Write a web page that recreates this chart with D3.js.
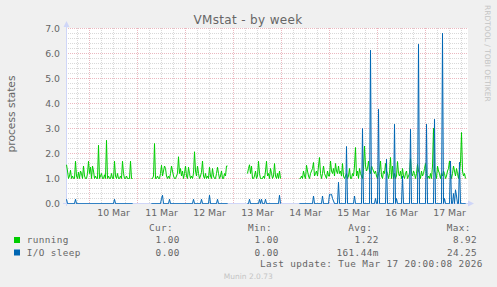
<!DOCTYPE html>
<html><head><meta charset="utf-8">
<script src="https://cdn.jsdelivr.net/npm/d3@7"></script>
<style>
html,body{margin:0;padding:0;background:#f0f0f0;}
svg{display:block;}
</style></head><body>
<svg id="chart" width="497" height="287"></svg>
<script>
// ---------- data ----------
const chartTitle = "VMstat - by week";
const yAxisLabel = "process states";
const yTickValues = [0, 1, 2, 3, 4, 5, 6, 7];
const yTickLabels = ["0.0", "1.0", "2.0", "3.0", "4.0", "5.0", "6.0", "7.0"];
const xTickDates = ["2026-03-10T12:00", "2026-03-11T12:00", "2026-03-12T12:00", "2026-03-13T12:00",
                    "2026-03-14T12:00", "2026-03-15T12:00", "2026-03-16T12:00", "2026-03-17T12:00"];
const xTickLabels = ["10 Mar", "11 Mar", "12 Mar", "13 Mar", "14 Mar", "15 Mar", "16 Mar", "17 Mar"];
const timeStart = "2026-03-09T12:30";
const timeEnd = "2026-03-17T20:30";
const stepMinutes = 30;
const segmentStarts = ["2026-03-09T12:30", "2026-03-11T07:00", "2026-03-13T07:00", "2026-03-14T09:00"];

const running1 = [1.55,1.3,1.0,1.1,1.33,1.0,1.1,1.0,1.0,1.69,
  1.1,1.0,1.25,1.0,1.3,1.2,1.0,1.5,1.1,1.0,
  1.0,1.2,1.69,1.2,1.45,1.0,1.5,1.3,1.0,1.1,
  1.0,1.0,2.33,1.0,1.1,1.2,1.0,1.0,1.15,1.0,
  2.53,1.0,1.1,1.0,1.0,1.2,1.0,1.0,1.69,1.1,
  1.0,1.2,1.0,1.0,1.1,1.0,1.69,1.2,1.0,1.0,
  1.1,1.0,1.0,1.0,1.69,1.0,1.0];
const running2 = [1.0,1.0,1.1,2.4,1.0,1.0,1.1,1.0,1.0,1.2,
  1.53,1.1,1.3,1.5,1.4,1.1,1.0,1.1,1.0,1.2,
  1.5,1.3,1.1,1.0,1.0,1.1,1.2,1.87,1.2,1.4,
  1.1,1.3,1.0,1.2,1.5,1.1,1.0,1.45,1.2,1.0,
  1.1,1.0,1.2,2.07,1.3,1.1,1.5,1.2,1.0,1.1,
  1.25,1.7,1.1,1.0,1.2,1.0,1.1,1.0,1.45,1.1,
  1.0,1.4,1.1,1.0,1.0,1.2,1.45,1.2,1.0,1.1,
  1.3,1.0,1.0,1.2,1.1,1.5,1.5];
const running3 = [1.2,1.4,1.55,1.2,1.5,1.0,1.0,1.1,1.3,1.0,
  1.1,1.69,1.2,1.0,1.0,1.0,1.1,1.0,1.3,1.69,
  1.1,1.2,1.0,1.4,1.2,1.0,1.1,1.6,1.1,1.0,
  1.2,1.0,1.3,1.0];
const running4 = [1.0,1.0,1.1,1.0,1.3,1.1,1.0,1.53,1.3,1.1,
  1.0,1.2,1.3,1.4,1.64,1.1,1.2,1.3,1.1,1.5,
  1.84,1.2,1.0,1.2,1.5,1.2,1.1,1.0,1.3,1.1,
  1.1,1.7,1.3,1.2,1.4,1.1,1.6,1.3,1.2,1.5,
  1.2,1.3,1.1,1.6,1.1,1.0,1.1,1.2,1.0,1.1,
  1.4,1.0,1.0,1.2,1.1,1.5,2.24,1.1,1.3,1.0,
  1.4,1.2,1.1,1.0,1.4,2.3,1.5,1.3,1.4,1.7,
  1.3,1.2,1.5,1.4,1.3,1.2,1.3,1.1,1.0,1.2,
  1.3,1.7,1.1,1.0,1.3,1.2,1.6,1.3,1.2,1.0,
  1.2,1.84,1.0,1.5,1.0,1.2,1.0,1.1,1.68,1.2,
  1.1,1.3,1.0,1.4,1.1,1.0,1.2,1.3,1.0,1.1,
  1.2,1.8,1.2,1.1,1.3,1.2,1.0,1.2,1.57,1.3,
  1.2,1.0,1.3,1.1,1.2,1.4,1.6,1.2,1.0,1.1,
  1.0,1.2,1.0,1.5,3.01,1.3,1.2,1.0,1.5,1.3,
  1.2,1.0,1.2,1.1,1.3,1.2,1.0,1.1,1.3,1.4,
  1.7,1.2,1.0,1.2,1.5,1.3,1.1,1.4,1.2,1.0,
  1.3,1.6,2.84,1.3,1.1,1.2,1.0];

const ioSleep1 = [0.17,0,0,0,0,0,0,0,0,0.17,
  0,0,0,0,0,0,0,0,0,0,
  0,0,0,0,0,0,0,0,0,0,
  0,0,0,0,0,0,0,0,0,0,
  0,0,0,0,0,0,0,0,0.17,0,
  0,0,0,0,0,0,0,0,0,0,
  0,0,0,0,0,0,0];
const ioSleep2 = [0,0,0,0,0,0,0,0,0,0,
  0.2,0.33,0,0,0,0,0,0,0.17,0,
  0,0,0,0,0,0,0,0,0,0,
  0,0,0,0,0,0,0,0,0,0,
  0,0,0.17,0,0,0,0,0,0,0,
  0.17,0,0,0,0,0,0,0,0.33,0,
  0,0,0,0,0,0,0.17,0,0,0,
  0,0,0,0,0,0,0];
const ioSleep3 = [0,0,0.17,0,0,0,0,0,0,0,
  0,0,0.17,0,0.17,0,0,0,0.17,0,
  0,0,0,0,0,0,0,0,0,0,
  0,0,0.33,0];
const ioSleep4 = [0,0,0,0,0,0,0,0,0,0,
  0,0,0,0,0.3,0,0,0,0,0,
  0,0,0,0.3,0,0,0,0,0,0,
  0.37,0.35,0.37,0.2,0.1,0,0,0,0,0.85,
  0,0,0,0,0,0,0,2.28,0,0,
  0,0,0,0,0,0.3,0,0,0,0,
  0,0,0,3.0,0,0,0,0,0,0,
  0,6.13,0,0,0,0,0.2,0,0,3.77,
  0,0,0,0,0,0,0,1.77,0,0,
  0,0,0,0,0,3.17,0,0.2,0,0,
  0,0,0,1.1,0,0,0,0,0,0,
  0,2.97,0,0,0,0,0,0,0,6.37,
  0,0,0,0,0,0,0,3.17,0,0,
  0,0,0,0,0,3.37,0,0,0,0,
  0,0,0,6.81,0,0.2,0,0,0,0,
  0,1.7,0,0,0.4,0,0.55,0.3,0,0,
  1.65,0,0,0,0,0,0];

const seriesNames = ["running", "I/O sleep"];
const statHeaders = ["Cur:", "Min:", "Avg:", "Max:"];
const curValues = ["1.00", "0.00"];
const minValues = ["1.00", "0.00"];
const avgValues = ["1.22", "161.44m"];
const maxValues = ["8.92", "24.25"];
const lastUpdate = "Last update: Tue Mar 17 20:00:08 2026";
const versionText = "Munin 2.0.73";
const watermark = "RRDTOOL / TOBI OETIKER";

// ---------- styles ----------
const colors = ["#00cc00", "#0066b3"];
const fontColor = "#666666";
const majorGrid = "#ebb8c0";
const minorGrid = "#d9d9d9";
const sans = "'DejaVu Sans', sans-serif";
const mono = "'DejaVu Sans Mono', monospace";

// ---------- drawing ----------
const svg = d3.select("#chart");
const parse = d3.timeParse("%Y-%m-%dT%H:%M");
const t0 = parse(timeStart), t1 = parse(timeEnd);
const stepMs = stepMinutes * 60000;
const plot = {left: 66.5, right: 466.5, top: 28.5, bottom: 203.5};

const x = d3.scaleTime().domain([t0, t1]).range([plot.left, plot.right]);
const y = d3.scaleLinear().domain([0, 7]).range([plot.bottom, plot.top]);

svg.append("rect").attr("width", 497).attr("height", 287).attr("fill", "#f0f0f0");
svg.append("rect").attr("x", 66).attr("y", 28).attr("width", 402).attr("height", 176).attr("fill", "#ffffff");

const grid = svg.append("g").attr("shape-rendering", "crispEdges");
// horizontal grid
const hMinor = d3.range(0, 35 + 1).map(k => k / 5);
hMinor.forEach(v => {
  if (v === 0) return;
  const major = Math.abs(v - Math.round(v)) < 1e-9;
  grid.append("line")
    .attr("x1", 66).attr("x2", 468)
    .attr("y1", y(v)).attr("y2", y(v))
    .attr("stroke", major ? majorGrid : minorGrid)
    .attr("stroke-dasharray", "1,1");
});
// vertical grid every 6 hours
const vTimes = d3.timeHour.every(6).range(t0, t1);
vTimes.forEach(t => {
  const major = t.getHours() === 0;
  const xx = x(t);
  grid.append("line")
    .attr("x1", xx).attr("x2", xx)
    .attr("y1", 28).attr("y2", 203)
    .attr("stroke", major ? majorGrid : minorGrid)
    .attr("stroke-dasharray", "1,1");
});

// axes lines & arrows
const axisColor = "#cfd6f8";
svg.append("line").attr("x1", 63).attr("x2", 469).attr("y1", 203.5).attr("y2", 203.5)
  .attr("stroke", axisColor).attr("shape-rendering", "crispEdges");
svg.append("line").attr("x1", 66.5).attr("x2", 66.5).attr("y1", 206).attr("y2", 25)
  .attr("stroke", axisColor).attr("shape-rendering", "crispEdges");
svg.append("path").attr("d", "M63.5,27L69.5,27L66.5,21Z").attr("fill", axisColor);
svg.append("path").attr("d", "M468,200.5L468,206.5L474,203.5Z").attr("fill", axisColor);

// data
svg.append("clipPath").attr("id", "clip").append("rect")
  .attr("x", 66).attr("y", 27).attr("width", 402).attr("height", 178);
const runningSegs = [running1, running2, running3, running4];
const ioSegs = [ioSleep1, ioSleep2, ioSleep3, ioSleep4];
const dataG = svg.append("g").attr("clip-path", "url(#clip)");
function drawSeries(segs, color) {
  segs.forEach((vals, si) => {
    const s = parse(segmentStarts[si]).getTime();
    const line = d3.line()
      .x((d, i) => x(new Date(s + i * stepMs)))
      .y(d => y(d));
    dataG.append("path").attr("d", line(vals))
      .attr("fill", "none").attr("stroke", color).attr("stroke-width", 1)
      .attr("stroke-linejoin", "miter");
  });
}
drawSeries(runningSegs, colors[0]);
drawSeries(ioSegs, colors[1]);

// y tick labels
yTickValues.forEach((v, i) => {
  svg.append("text").attr("x", 60).attr("y", y(v)).attr("dy", "0.36em")
    .attr("text-anchor", "end").attr("font-family", sans).attr("font-size", 9.33)
    .attr("fill", fontColor).text(yTickLabels[i]);
});
// x tick labels
xTickDates.forEach((d, i) => {
  svg.append("text").attr("x", x(parse(d))).attr("y", 215.5)
    .attr("text-anchor", "middle").attr("font-family", sans).attr("font-size", 9.33)
    .attr("fill", fontColor).text(xTickLabels[i]);
});

// title
svg.append("text").attr("x", 248).attr("y", 23.5).attr("text-anchor", "middle")
  .attr("font-family", sans).attr("font-size", 12).attr("letter-spacing", 0.35)
  .attr("fill", fontColor).text(chartTitle);
// y label
svg.append("text").attr("transform", "translate(14.5,114) rotate(-90)")
  .attr("text-anchor", "middle").attr("font-family", sans).attr("font-size", 10.67)
  .attr("fill", fontColor).text(yAxisLabel);
// watermark
svg.append("text").attr("transform", "translate(485,53.3) rotate(90)")
  .attr("text-anchor", "middle").attr("font-family", sans).attr("font-size", 7.5)
  .attr("fill", "#c4c4c4").text(watermark);

// legend
const ls = 0.4;
const headerX = [149, 248, 348.3, 446.7];
const valueEnd = [179.3, 278.3, 378.3, 476.7];
statHeaders.forEach((h, i) => {
  svg.append("text").attr("x", headerX[i]).attr("y", 230.7)
    .attr("font-family", mono).attr("font-size", 9.33).attr("letter-spacing", ls)
    .attr("fill", fontColor).text(h);
});
const rowY = [243, 255.5];
const statCols = [curValues, minValues, avgValues, maxValues];
seriesNames.forEach((name, r) => {
  svg.append("rect").attr("x", 14).attr("y", rowY[r] - 6).attr("width", 6).attr("height", 6)
    .attr("fill", colors[r]);
  svg.append("text").attr("x", 26.7).attr("y", rowY[r])
    .attr("font-family", mono).attr("font-size", 9.33).attr("letter-spacing", ls)
    .attr("fill", fontColor).text(name);
  statCols.forEach((col, c) => {
    svg.append("text").attr("x", valueEnd[c] + ls).attr("y", rowY[r]).attr("text-anchor", "end")
      .attr("font-family", mono).attr("font-size", 9.33).attr("letter-spacing", ls)
      .attr("fill", fontColor).text(col[r]);
  });
});
svg.append("text").attr("x", 482.7).attr("y", 267).attr("text-anchor", "end")
  .attr("font-family", mono).attr("font-size", 9.33).attr("letter-spacing", ls)
  .attr("fill", fontColor).text(lastUpdate);
svg.append("text").attr("x", 248.3).attr("y", 278.5).attr("text-anchor", "middle")
  .attr("font-family", sans).attr("font-size", 7.5)
  .attr("fill", "#c4c4c4").text(versionText);
</script>
</body></html>
